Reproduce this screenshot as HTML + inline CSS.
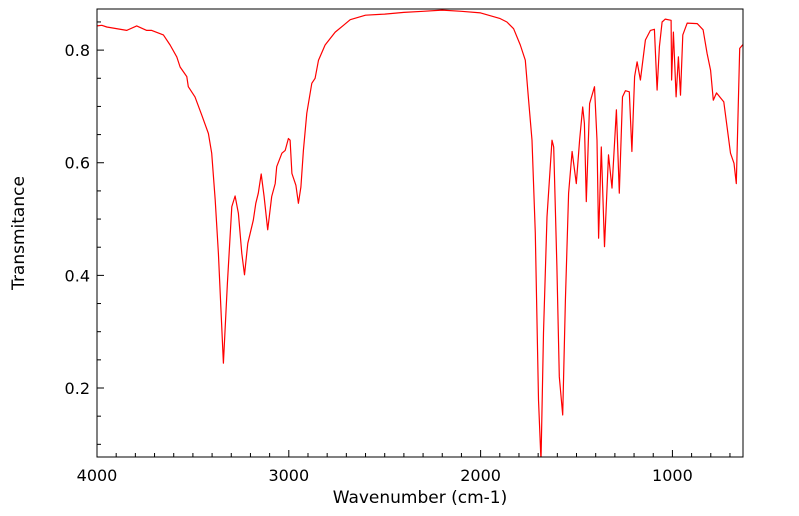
<!DOCTYPE html>
<html><head><meta charset="utf-8"><style>
body{margin:0;background:#fff;}
svg{display:block;font-family:"DejaVu Sans","Liberation Sans",sans-serif;}
</style></head><body>
<svg id="chart" width="799" height="516"></svg>
<script>
const wavenumbers=[4000,3975,3949,3845,3793,3741,3715,3654,3619,3584,3567,3532,3524,3489,3454,3419,3402,3384,3367,3341,3320,3297,3280,3263,3245,3231,3214,3185,3172,3159,3144,3129,3110,3089,3071,3063,3036,3019,3002,2993,2984,2963,2950,2937,2924,2906,2880,2863,2845,2811,2758,2715,2680,2600,2500,2400,2300,2200,2100,2000,1898,1863,1828,1793,1767,1750,1732,1715,1698,1685,1672,1654,1628,1619,1602,1590,1572,1558,1541,1523,1501,1484,1468,1459,1449,1432,1406,1393,1385,1371,1354,1333,1315,1292,1277,1260,1245,1225,1211,1197,1184,1167,1141,1115,1094,1080,1068,1054,1037,1007,1004,995,981,969,958,946,923,871,840,819,801,787,770,732,697,679,667,649,632];
const transmittance=[0.843,0.844,0.841,0.835,0.843,0.835,0.835,0.827,0.809,0.788,0.770,0.753,0.735,0.717,0.685,0.652,0.617,0.534,0.439,0.244,0.386,0.522,0.541,0.510,0.439,0.401,0.457,0.498,0.528,0.546,0.580,0.540,0.481,0.540,0.563,0.593,0.617,0.622,0.643,0.640,0.581,0.560,0.528,0.557,0.622,0.688,0.741,0.750,0.782,0.809,0.832,0.844,0.854,0.862,0.864,0.867,0.869,0.871,0.869,0.866,0.856,0.850,0.838,0.809,0.782,0.711,0.640,0.475,0.179,0.070,0.298,0.504,0.640,0.628,0.415,0.220,0.152,0.356,0.546,0.620,0.563,0.640,0.699,0.670,0.531,0.705,0.735,0.640,0.466,0.628,0.451,0.614,0.555,0.694,0.546,0.717,0.728,0.726,0.620,0.753,0.779,0.747,0.818,0.835,0.837,0.729,0.806,0.850,0.855,0.853,0.747,0.832,0.717,0.788,0.720,0.827,0.848,0.847,0.836,0.794,0.764,0.711,0.724,0.708,0.617,0.599,0.563,0.803,0.810];
const xTickLabels=[4000,3000,2000,1000];
const yTickLabels=[0.2,0.4,0.6,0.8];

const L=97,R=743,T=9,B=457;
const xMin=4000,xMax=632,yMin=0.0775,yMax=0.873;
const sx=v=>L+(xMin-v)/(xMin-xMax)*(R-L);
const sy=v=>B-(v-yMin)/(yMax-yMin)*(B-T);
const NS="http://www.w3.org/2000/svg";
const svg=document.getElementById('chart');
function mk(tag,attrs){const e=document.createElementNS(NS,tag);for(const k in attrs)e.setAttribute(k,attrs[k]);svg.appendChild(e);return e;}

const clip=mk('clipPath',{id:'pc'});
const cr=document.createElementNS(NS,'rect');cr.setAttribute('x',L);cr.setAttribute('y',T);cr.setAttribute('width',R-L);cr.setAttribute('height',B-T);clip.appendChild(cr);

for(let w=4000;w>=700;w-=100){
  const x=sx(w);const major=w%1000===0;
  const t=mk('line',{x1:x,x2:x,y1:B,y2:B-(major?7:4),stroke:'#000','stroke-width':1});
  
  
}
xTickLabels.forEach(v=>{
  const t=mk('text',{x:sx(v),y:B+24,'text-anchor':'middle','font-size':16,fill:'#000'});
  t.textContent=v;
  
  
});
for(let i=2;i<=17;i++){
  const v=i*0.05;const y=sy(v);if(y<T)continue;const major=i%4===0;
  const t=mk('line',{x1:L,x2:L+(major?7:4),y1:y,y2:y,stroke:'#000','stroke-width':1});
  
  
}
yTickLabels.forEach(v=>{
  const t=mk('text',{x:L-7,y:sy(v)+6,'text-anchor':'end','font-size':16,fill:'#000'});
  t.textContent=v.toFixed(1);
  
  
});

let d='';
wavenumbers.forEach((w,i)=>{d+=(i?'L':'M')+sx(w).toFixed(1)+','+sy(transmittance[i]).toFixed(1);});
const p=mk('path',{d:d,fill:'none',stroke:'#ff0000','stroke-width':1.2,'clip-path':'url(#pc)','stroke-linejoin':'round'});



const f=mk('rect',{x:L,y:T,width:R-L,height:B-T,fill:'none',stroke:'#000','stroke-width':1});



const xt=mk('text',{x:(L+R)/2,y:503,'text-anchor':'middle','font-size':17,fill:'#000'});
xt.textContent='Wavenumber (cm-1)';


const yt=mk('text',{x:0,y:0,'text-anchor':'middle','font-size':17,fill:'#000',transform:'translate(24,233) rotate(-90)'});
yt.textContent='Transmitance';


</script>
</body></html>
